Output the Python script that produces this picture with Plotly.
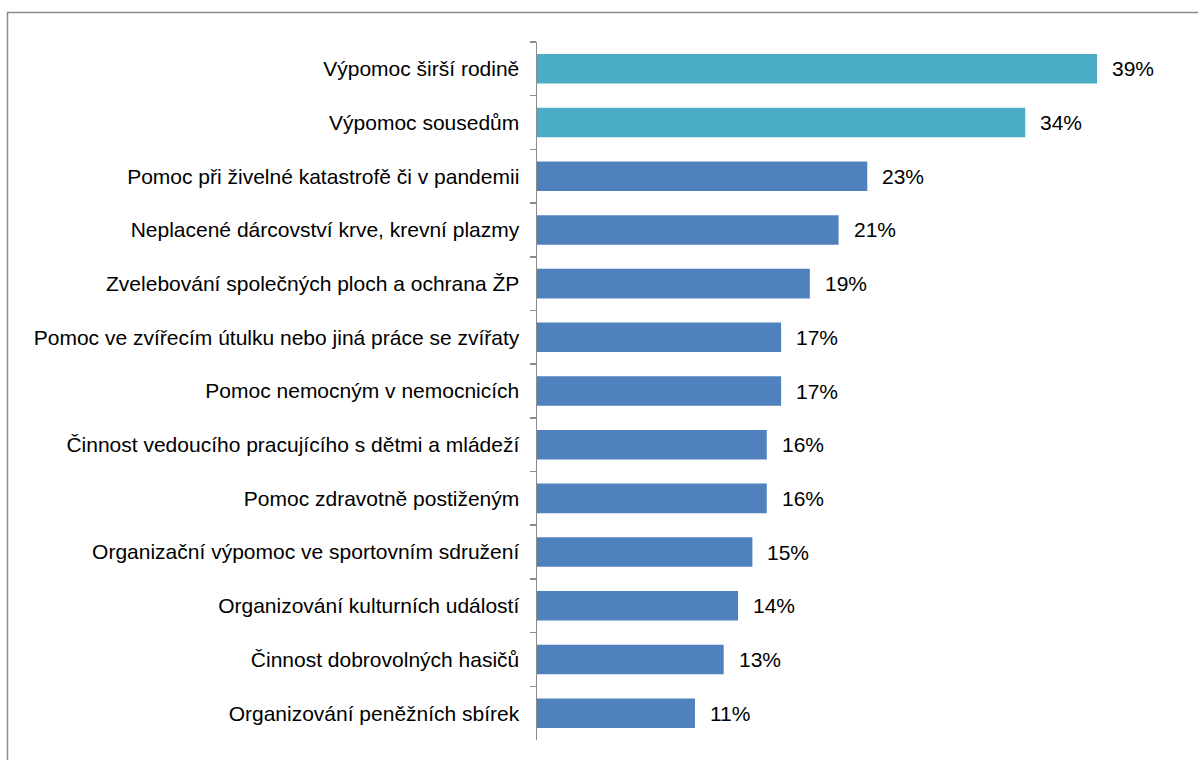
import plotly.graph_objects as go

categories = [
    "Výpomoc širší rodině",
    "Výpomoc sousedům",
    "Pomoc při živelné katastrofě či v pandemii",
    "Neplacené dárcovství krve, krevní plazmy",
    "Zvelebování společných ploch a ochrana ŽP",
    "Pomoc ve zvířecím útulku nebo jiná práce se zvířaty",
    "Pomoc nemocným v nemocnicích",
    "Činnost vedoucího pracujícího s dětmi a mládeží",
    "Pomoc zdravotně postiženým",
    "Organizační výpomoc ve sportovním sdružení",
    "Organizování kulturních událostí",
    "Činnost dobrovolných hasičů",
    "Organizování peněžních sbírek",
]
values = [39, 34, 23, 21, 19, 17, 17, 16, 16, 15, 14, 13, 11]
groups = ["rodina", "rodina"] + ["ostatní"] * 11

TEAL = "#4BACC6"
BLUE = "#4F81BD"
colors = [TEAL if g == "rodina" else BLUE for g in groups]

W, H = 1198, 760
ML, MR, MT, MB = 537, 18, 42, 20
PX_PER_PCT = 14.36
xmax = (W - ML - MR) / PX_PER_PCT

FONT = "Arial, 'Liberation Sans', sans-serif"
FS = 21

fig = go.Figure(
    go.Bar(
        x=values,
        y=categories,
        orientation="h",
        marker=dict(color=colors, line=dict(width=0)),
        hoverinfo="skip",
    )
)

for c, v in zip(categories, values):
    fig.add_annotation(
        x=v, y=c, xref="x", yref="y",
        text=f"{v}%", showarrow=False,
        xanchor="left", yanchor="middle", xshift=13,
        font=dict(family=FONT, size=FS, color="#000000"),
    )

pw = W - ML - MR
ph = H - MT - MB
fig.add_shape(
    type="rect", xref="paper", yref="paper",
    x0=(7.5 - ML) / pw, x1=(W + 20 - ML) / pw,
    y0=-(MB + 20) / ph, y1=1 + (MT - 12.5) / ph,
    line=dict(color="#8c8c8c", width=1.5),
    fillcolor="rgba(0,0,0,0)", layer="below",
)

fig.update_layout(
    width=W, height=H,
    margin=dict(l=ML, r=MR, t=MT, b=MB, pad=0),
    paper_bgcolor="white", plot_bgcolor="white",
    bargap=0.45,
    showlegend=False,
    hovermode=False,
    font=dict(family=FONT, size=FS, color="#000000"),
    xaxis=dict(
        range=[0, xmax], visible=False, fixedrange=True,
    ),
    yaxis=dict(
        type="category",
        categoryorder="array", categoryarray=categories,
        autorange="reversed",
        range=[len(categories) - 0.5, -0.5],
        tickson="boundaries",
        ticks="outside", ticklen=6, tickwidth=1.5, tickcolor="#8c8c8c",
        showline=True, linecolor="#8c8c8c", linewidth=1.5,
        showgrid=False, zeroline=False, fixedrange=True,
        ticklabelstandoff=12,
        tickfont=dict(family=FONT, size=FS, color="#000000"),
    ),
)

fig.write_html(
    "out.html",
    config={"displayModeBar": False, "staticPlot": True},
    post_script="document.body.style.margin='0';document.body.style.padding='0';document.body.style.overflow='hidden';",
)
